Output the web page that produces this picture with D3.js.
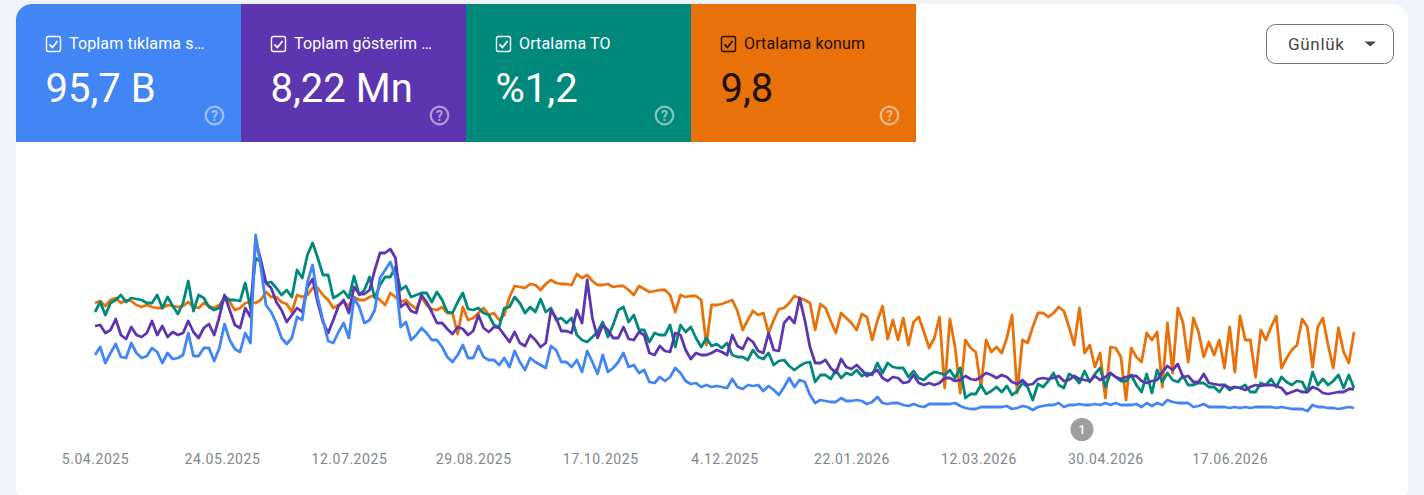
<!DOCTYPE html>
<html>
<head>
<meta charset="utf-8">
<script src="https://cdn.jsdelivr.net/npm/d3@7"></script>
<style>
  html, body { margin: 0; padding: 0; background: #f0f4f9; overflow: hidden; }
  text { font-family: Roboto, sans-serif; }
  .axis text { font-size: 14px; fill: #80868b; letter-spacing: .55px; }
</style>
</head>
<body>
<div id="chart"></div>
<script>
// values, every second day, as relative height (each metric has its own hidden axis in the original)
var clicks = [
  65,73,57,67,76,63,62,77,67,62,64,72,68,57,67,61,62,65,87,64,
  64,72,72,59,72,96,80,71,68,87,77,185,153,115,108,97,82,76,82,103,
  100,138,155,122,100,79,77,88,97,82,122,113,97,100,110,142,150,158,143,93,
  98,80,85,92,87,80,80,73,63,58,65,75,62,62,74,63,60,60,55,62,
  53,69,58,50,62,58,55,52,74,70,58,58,53,60,48,69,58,46,65,48,
  52,58,67,53,55,47,50,38,37,43,39,43,52,47,39,36,37,33,35,33,
  34,33,32,41,33,31,35,34,35,29,34,30,25,33,42,33,40,38,25,17,
  20,19,18,18,22,19,19,20,19,16,18,23,17,16,17,17,15,14,16,14,
  13,16,16,16,16,16,17,14,12,11,11,13,13,13,13,13,14,11,12,14,
  13,10,13,14,15,15,17,13,15,15,16,15,15,16,15,17,15,17,15,15,
  15,16,13,17,14,17,15,20,18,17,17,17,13,14,16,13,13,13,13,12,
  13,12,13,12,13,13,13,13,12,13,12,11,11,11,9,15,13,13,12,12,
  11,12,13,12
];
var impressions = [
  94,95,87,90,101,85,81,93,85,83,87,99,85,94,83,88,85,87,99,88,
  82,92,96,85,103,125,110,95,92,112,103,180,160,137,132,118,110,98,105,112,
  108,133,141,117,98,87,100,114,120,107,133,126,126,130,150,167,167,171,162,113,
  117,109,107,125,118,108,97,97,91,86,93,91,85,89,105,92,88,93,92,85,
  78,88,77,74,85,80,73,77,110,102,89,89,87,110,97,140,102,82,95,90,
  82,82,93,81,80,88,85,67,65,74,69,68,87,85,70,61,67,65,65,67,
  70,68,65,85,74,71,82,78,69,67,87,70,69,97,103,97,122,100,73,57,
  57,60,52,47,61,53,51,55,50,44,47,50,42,39,43,42,37,38,45,37,
  35,37,35,37,42,42,39,40,44,41,40,43,47,45,42,45,43,38,36,40,
  35,36,41,42,41,42,44,39,40,44,41,40,39,44,40,43,47,43,41,43,
  44,44,39,37,39,40,48,54,50,56,43,44,38,38,46,37,36,35,35,32,
  33,32,30,33,35,34,35,35,34,32,26,28,30,28,28,33,31,27,26,27,
  28,28,31,31
];
var ctr = [
  108,118,105,117,120,125,118,122,121,120,117,117,125,112,123,114,106,117,139,109,
  125,122,113,110,112,124,120,120,119,137,112,162,158,137,138,132,125,130,123,150,
  142,165,177,162,145,145,122,125,129,122,144,125,130,143,122,135,143,143,153,130,
  134,123,125,127,127,118,128,120,108,107,118,127,111,110,112,107,105,95,93,112,
  113,123,117,107,113,108,121,108,112,100,102,97,102,85,80,78,83,88,98,83,
  95,110,113,98,105,90,90,78,87,85,85,95,73,95,88,93,82,73,82,74,
  76,72,77,65,63,63,60,70,63,61,67,55,59,60,54,50,54,57,58,38,
  45,45,41,50,42,47,45,50,44,47,45,57,47,57,53,52,52,43,49,42,
  40,45,48,47,45,50,42,52,22,26,26,35,26,29,33,28,34,25,29,37,
  33,20,36,33,39,47,35,32,46,43,37,49,38,46,52,33,47,43,39,39,
  45,35,28,46,27,50,38,47,40,38,44,35,35,37,37,33,33,28,35,30,
  33,32,35,28,28,37,35,41,33,43,38,35,39,38,28,48,35,41,35,39,
  45,32,45,32
];
var position = [
  117,119,114,120,122,117,120,119,115,113,115,113,112,112,115,114,113,114,118,113,
  112,117,114,112,115,122,118,110,112,117,118,117,120,128,123,123,118,116,108,125,
  123,125,132,132,125,120,112,115,118,114,123,120,120,123,125,120,115,127,123,118,
  120,115,111,123,115,111,110,113,107,107,86,113,100,102,107,112,105,107,100,105,
  123,134,133,132,136,135,130,136,140,137,136,136,135,146,142,145,139,135,135,136,
  133,134,134,130,125,134,131,128,129,130,130,125,108,125,123,124,124,120,75,115,
  115,116,118,120,109,90,100,109,105,107,87,100,111,112,117,124,122,120,117,90,
  116,112,99,87,107,102,97,90,106,103,80,99,114,81,100,80,102,75,98,103,
  88,72,82,103,32,101,73,27,80,72,68,33,80,68,73,67,82,105,27,80,
  77,93,107,107,103,107,113,109,93,75,112,67,75,53,67,22,73,72,63,20,
  72,63,58,87,80,88,33,97,47,112,97,58,102,88,63,78,65,80,52,93,
  48,104,80,80,43,90,80,93,104,52,62,70,75,101,93,53,93,102,75,52,
  92,68,57,88
];

var tickDates = ["2025-04-05","2025-05-24","2025-07-12","2025-08-29","2025-10-17","2025-12-04","2026-01-22","2026-03-12","2026-04-30","2026-06-17"];
var tickLabels = ["5.04.2025","24.05.2025","12.07.2025","29.08.2025","17.10.2025","4.12.2025","22.01.2026","12.03.2026","30.04.2026","17.06.2026"];

var metricLabels = ["Toplam tıklama s…","Toplam gösterim …","Ortalama TO","Ortalama konum"];
var metricValues = ["95,7 B","8,22 Mn","%1,2","9,8"];
var metricColors = ["#4285f4","#5e35b1","#00897b","#e8710a"];
var metricText = ["#ffffff","#ffffff","#ffffff","#1f0f00"];

var annotationDate = "2026-04-21";
var stepDays = 2;
var parseDate = d3.utcParse("%Y-%m-%d");
var startDate = parseDate("2025-04-05");

var svg = d3.select("#chart").append("svg")
  .attr("width", 1424)
  .attr("height", 495)
  .style("display", "block");

// white card
svg.append("rect")
  .attr("x", 16).attr("y", 4)
  .attr("width", 1392).attr("height", 500)
  .attr("rx", 16)
  .attr("fill", "#ffffff");

// scales
var x = d3.scaleUtc()
  .domain([startDate, d3.utcDay.offset(startDate, 486)])
  .range([95, 1354]);
var y = d3.scaleLinear()
  .domain([0, 200])
  .range([420, 220]);

var line = d3.line()
  .x(function(d, i) { return x(d3.utcDay.offset(startDate, i * stepDays)); })
  .y(function(d) { return y(d); });

// lines, orange at the back, blue on top
[[position, 3], [ctr, 2], [impressions, 1], [clicks, 0]].forEach(function(s) {
  svg.append("path")
    .datum(s[0])
    .attr("fill", "none")
    .attr("stroke", metricColors[s[1]])
    .attr("stroke-width", 2.8)
    .attr("stroke-linejoin", "round")
    .attr("d", line);
});

// x axis
var xAxis = d3.axisBottom(x)
  .tickValues(tickDates.map(parseDate))
  .tickSize(0)
  .tickFormat(function(d, i) { return tickLabels[i]; });
var axisG = svg.append("g")
  .attr("class", "axis")
  .attr("transform", "translate(0,451)")
  .call(xAxis);
axisG.select(".domain").remove();

// annotation marker
var marker = svg.append("g")
  .attr("transform", "translate(" + x(parseDate(annotationDate)) + ",429.5)");
marker.append("circle").attr("r", 11.5).attr("fill", "#9e9e9e");
marker.append("text")
  .attr("text-anchor", "middle")
  .attr("y", 4.5)
  .attr("font-size", 12)
  .attr("font-weight", 500)
  .attr("fill", "#ffffff")
  .text("1");

// metric tiles
var tiles = svg.selectAll("g.tile")
  .data(metricLabels)
  .enter().append("g")
  .attr("class", "tile")
  .attr("transform", function(d, i) { return "translate(" + (16 + i * 225) + ",4)"; });

tiles.append("rect")
  .attr("width", 225)
  .attr("height", 138)
  .attr("fill", function(d, i) { return metricColors[i]; });

// rounded corner of the first tile
svg.append("path")
  .attr("d", "M16,4h16a16,16 0 0 0 -16,16z")
  .attr("fill", "#f0f4f9");

// checkbox
tiles.append("rect")
  .attr("x", 30.5).attr("y", 32.5)
  .attr("width", 14).attr("height", 15)
  .attr("rx", 2)
  .attr("fill", "none")
  .attr("stroke", function(d, i) { return metricText[i]; })
  .attr("stroke-width", 1.4);
tiles.append("path")
  .attr("d", "M33.5,40.5l3,3l5,-6.5")
  .attr("fill", "none")
  .attr("stroke", function(d, i) { return metricText[i]; })
  .attr("stroke-width", 1.8);

tiles.append("text")
  .attr("x", 53).attr("y", 45)
  .attr("font-size", 16)
  .attr("letter-spacing", 0.15)
  .attr("fill", function(d, i) { return metricText[i]; })
  .text(function(d) { return d; });

tiles.append("text")
  .attr("x", 29.5).attr("y", 98)
  .attr("font-size", 40)
  .attr("fill", function(d, i) { return metricText[i]; })
  .text(function(d, i) { return metricValues[i]; });

// help icon
var help = tiles.append("g")
  .attr("transform", "translate(198.5,111.5)")
  .attr("opacity", 0.5);
help.append("circle")
  .attr("r", 8.8)
  .attr("fill", "none")
  .attr("stroke", "#ffffff")
  .attr("stroke-width", 2.2);
help.append("text")
  .attr("text-anchor", "middle")
  .attr("y", 5)
  .attr("font-size", 14)
  .attr("font-weight", 700)
  .attr("fill", "#ffffff")
  .text("?");

// period button
svg.append("rect")
  .attr("x", 1266.5).attr("y", 24.5)
  .attr("width", 127).attr("height", 39)
  .attr("rx", 9)
  .attr("fill", "#ffffff")
  .attr("stroke", "#747775");
svg.append("text")
  .attr("x", 1288).attr("y", 50)
  .attr("font-size", 17)
  .attr("letter-spacing", 0.7)
  .attr("fill", "#444746")
  .text("Günlük");
svg.append("path")
  .attr("d", "M1364.5,41.5h11.5l-5.75,5z")
  .attr("fill", "#444746");
</script>
</body>
</html>
